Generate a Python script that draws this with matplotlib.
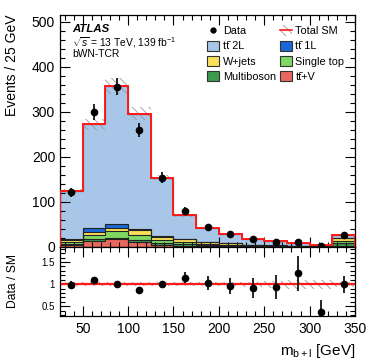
import numpy as np
import matplotlib
matplotlib.use("Agg")
import matplotlib.pyplot as plt
from matplotlib.patches import Patch
from matplotlib.lines import Line2D
from matplotlib.ticker import MultipleLocator

plt.rcParams['font.family'] = ['Liberation Sans', 'DejaVu Sans']
plt.rcParams['mathtext.fontset'] = 'custom'
plt.rcParams['mathtext.rm'] = 'Liberation Sans'
plt.rcParams['mathtext.it'] = 'Liberation Sans:italic'
plt.rcParams['hatch.linewidth'] = 0.6

# binning in m_b+l [GeV]
edges = np.arange(25, 351, 25)
centres = edges[:-1] + 12.5

# background components (events / bin), stacked bottom to top
ttV = [5, 13, 17, 11, 4, 3, 2, 1.5, 1, 0.8, 0.6, 0.5, 3]
multiboson = [2, 4, 3, 4, 4, 4, 2, 2, 1.5, 1.2, 1, 0.8, 6]
singletop = [4, 10, 15, 12, 7, 5, 3, 2, 1, 0.6, 0.4, 0.3, 4]
wjets = [4, 6, 7, 10, 7, 5, 3, 2.5, 1.2, 0.6, 0.3, 0.2, 6]
tt1L = [3, 9, 10, 4, 2, 1, 0.5, 0.5, 0.3, 0.2, 0.1, 0.1, 0.5]
tt2L = [106, 230, 306, 255, 130, 52, 32.5, 20.5, 13.6, 9.3, 5.6, 3.4, 7.5]

# relative uncertainty on total SM
rel_unc = [0.04, 0.045, 0.05, 0.05, 0.04, 0.04, 0.04, 0.05, 0.06, 0.08, 0.1, 0.1, 0.06]

data = [121, 300, 356, 260, 154, 80, 44, 28, 17, 12, 10, 2, 27]

TT = 't\u0074\u0304'
comps = [
    (ttV, '#e8675f', TT + '+V'),
    (multiboson, '#3b9a4e', 'Multiboson'),
    (singletop, '#7fd862', 'Single top'),
    (wjets, '#fbe05a', 'W+jets'),
    (tt1L, '#1a68d6', TT + ' 1L'),
    (tt2L, '#a7c6e8', TT + ' 2L'),
]

W, H = 374, 363
fig = plt.figure(figsize=(W / 100, H / 100), dpi=100)
ax = fig.add_axes([60 / W, 1 - 247 / H, 295 / W, 232 / H])
rax = fig.add_axes([60 / W, 1 - 316 / H, 295 / W, 69 / H], sharex=ax)

bottom = np.zeros(len(centres))
handles = {}
for vals, col, lab in comps:
    vals = np.array(vals, dtype=float)
    ax.stairs(bottom + vals, edges, baseline=bottom, fill=True, color=col, zorder=1)
    ax.stairs(bottom + vals, edges, baseline=None, color='#222222', lw=0.8, zorder=2)
    handles[lab] = Patch(facecolor=col, edgecolor='#333333', lw=0.8, label=lab)
    bottom = bottom + vals
total = bottom
unc = total * np.array(rel_unc)

# uncertainty band and total line
ax.stairs(total + unc, edges, baseline=total - unc, fill=True, facecolor='none',
          edgecolor='#999999', hatch='\\\\\\\\', lw=0, zorder=3)
ax.stairs(total, edges, baseline=0, color='#ff1a1a', lw=1.4, zorder=4)

d = np.array(data, dtype=float)
ax.errorbar(centres, d, yerr=np.sqrt(d), fmt='o', color='black', ms=4.5, lw=1.2,
            capsize=0, zorder=5)

ax.set_xlim(25, 350)
ax.set_ylim(0, 515)
ax.yaxis.set_major_locator(MultipleLocator(100))
ax.yaxis.set_minor_locator(MultipleLocator(20))
ax.xaxis.set_major_locator(MultipleLocator(50))
ax.xaxis.set_minor_locator(MultipleLocator(10))
ax.tick_params(labelbottom=False)
ax.set_ylabel('Events / 25 GeV', fontsize=10, loc='top')
ax.yaxis.set_label_coords(-0.139, 1.0)

# ratio panel
ratio = d / total
rerr = np.sqrt(d) / total
rel = np.array(rel_unc)
rax.stairs(1 + rel, edges, baseline=1 - rel, fill=True, facecolor='none',
           edgecolor='#999999', hatch='\\\\\\\\', lw=0, zorder=1)
rax.axhline(1, color='#ff1a1a', lw=1.6, zorder=2)
rax.errorbar(centres, ratio, yerr=rerr, fmt='o', color='black', ms=4.5, lw=1.2,
             capsize=0, zorder=3)
rax.set_ylim(0.28, 1.84)
rax.yaxis.set_minor_locator(MultipleLocator(0.1))
rax.set_yticks([0.5, 1, 1.5])
rax.set_yticklabels(['0.5', '1', '1.5'])
rax.set_ylabel('Data / SM', fontsize=8.7)
rax.yaxis.set_label_coords(-0.139, 0.5)
rax.set_xlabel(r'm$_{\mathrm{b+l}}$ [GeV]', fontsize=11, loc='right')
rax.xaxis.set_label_coords(1.0, -0.38)

for a in (ax, rax):
    a.tick_params(which='both', direction='in', top=True, right=True)
    a.tick_params(which='major', length=7, width=0.8)
    a.tick_params(which='minor', length=3.5, width=0.8)
    for s in a.spines.values():
        s.set_linewidth(0.9)
ax.tick_params(axis='y', labelsize=10)
rax.tick_params(axis='x', labelsize=10, pad=4)
rax.tick_params(axis='y', labelsize=7)

# labels
ax.text(0.04, 0.94, 'ATLAS', transform=ax.transAxes, fontsize=8.2,
        fontweight='bold', style='italic', va='center')
ax.text(0.04, 0.883, r'$\sqrt{s}$ = 13 TeV, 139 fb$^{-1}$', transform=ax.transAxes,
        fontsize=7.4, va='center')
ax.text(0.04, 0.83, 'bWN-TCR', transform=ax.transAxes, fontsize=7.4, va='center')

# legend
h_data = Line2D([], [], marker='o', ls='', color='black', ms=3.5)
h_tot = (Patch(facecolor='none', edgecolor='#999999', hatch='\\\\\\\\', lw=0),
         Line2D([], [], color='#ff1a1a', lw=1.2))
leg_h = [h_data, handles[TT + ' 2L'], handles['W+jets'], handles['Multiboson'],
         h_tot, handles[TT + ' 1L'], handles['Single top'], handles[TT + '+V']]
leg_l = ['Data', TT + ' 2L', 'W+jets', 'Multiboson',
         'Total SM', TT + ' 1L', 'Single top', TT + '+V']
ax.legend(leg_h, leg_l, ncol=2, loc='upper left', bbox_to_anchor=(207 / W, 1 - 25.5 / H),
          bbox_transform=fig.transFigure, frameon=False, fontsize=7.8,
          handlelength=1.15, handleheight=1.05, handletextpad=0.3,
          labelspacing=0.42, columnspacing=0.35, borderpad=0, borderaxespad=0)

fig.savefig('out.png', dpi=100)
